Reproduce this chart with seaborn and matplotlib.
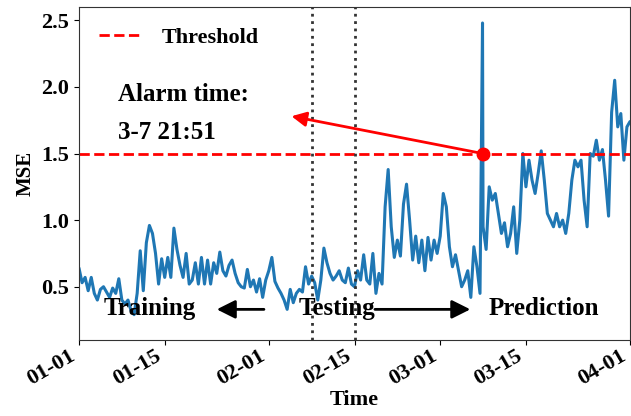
import pandas as pd
import seaborn as sns
import matplotlib
matplotlib.use("Agg")
import matplotlib.pyplot as plt
import matplotlib.dates as mdates

mse = [0.64, 0.53, 0.57, 0.47, 0.57, 0.45, 0.40, 0.48, 0.50, 0.46,
       0.42, 0.49, 0.45, 0.56, 0.40, 0.37, 0.40, 0.32, 0.29, 0.45,
       0.77, 0.47, 0.83, 0.96, 0.90, 0.75, 0.52, 0.71, 0.57, 0.72,
       0.57, 0.94, 0.78, 0.66, 0.57, 0.75, 0.52, 0.55, 0.68, 0.52,
       0.72, 0.52, 0.70, 0.52, 0.68, 0.60, 0.76, 0.62, 0.58, 0.66,
       0.70, 0.60, 0.53, 0.50, 0.49, 0.63, 0.50, 0.55, 0.46, 0.56,
       0.42, 0.55, 0.62, 0.72, 0.54, 0.49, 0.45, 0.40, 0.33, 0.48,
       0.38, 0.45, 0.48, 0.46, 0.65, 0.52, 0.58, 0.53, 0.40, 0.55,
       0.79, 0.68, 0.60, 0.55, 0.58, 0.62, 0.55, 0.53, 0.64, 0.52,
       0.50, 0.62, 0.55, 0.74, 0.55, 0.52, 0.75, 0.45, 0.60, 0.52,
       1.10, 1.38, 0.95, 0.72, 0.85, 0.73, 1.12, 1.27, 1.00, 0.70,
       0.88, 0.68, 0.85, 0.62, 0.87, 0.70, 0.85, 0.75, 0.88, 1.20,
       1.10, 0.80, 0.65, 0.74, 0.62, 0.50, 0.55, 0.62, 0.42, 0.80,
       0.65, 0.45, 0.95, 0.78, 1.25, 1.15, 1.20, 1.05, 0.90, 0.98,
       0.80, 0.90, 1.10, 0.75, 1.00, 1.50, 1.25, 1.45, 1.30, 1.20,
       1.35, 1.52, 1.30, 1.05, 1.00, 0.95, 1.05, 0.95, 1.00, 0.90,
       1.05, 1.30, 1.45, 1.40, 1.45, 1.15, 0.95, 1.50, 1.48, 1.60,
       1.45, 1.53, 1.30, 1.03, 1.81, 2.05, 1.70, 1.80, 1.45, 1.70,
       1.74]
start = "2021-01-01"
alarm_time = "2021-03-07 21:51"
alarm_peak = 2.48
threshold = 1.5
split_dates = ["2021-02-08", "2021-02-15"]
tick_dates = ["2021-01-01", "2021-01-15", "2021-02-01", "2021-02-15",
              "2021-03-01", "2021-03-15", "2021-04-01"]

times = pd.date_range(start, periods=len(mse), freq="12h")
df = pd.DataFrame({"Time": times, "MSE": mse})
spike = pd.DataFrame({"Time": [pd.Timestamp(alarm_time)], "MSE": [alarm_peak]})
df = pd.concat([df, spike]).sort_values("Time").reset_index(drop=True)

sns.set_style("ticks")
plt.rcParams["font.family"] = "serif"
plt.rcParams["font.serif"] = ["Liberation Serif", "DejaVu Serif"]
plt.rcParams["font.weight"] = "bold"
plt.rcParams["text.color"] = "black"
plt.rcParams["axes.labelcolor"] = "black"
plt.rcParams["xtick.color"] = "black"
plt.rcParams["ytick.color"] = "black"

fig, ax = plt.subplots(figsize=(6.31, 4.16), dpi=100)
fig.subplots_adjust(left=79/631, right=630/631, bottom=1-340/416, top=1-7/416)

sns.lineplot(data=df, x="Time", y="MSE", ax=ax, color="#1f77b4", lw=2.2)
ax.axhline(threshold, color="red", ls="--", lw=2, label="Threshold")
for d in split_dates:
    ax.axvline(pd.Timestamp(d), color="#333333", ls=":", lw=2)

t_alarm = pd.Timestamp(alarm_time)
ax.plot([t_alarm], [threshold], "o", color="red", ms=9)
ax.annotate("", xy=(pd.Timestamp("2021-02-04 17:00"), 1.78), xytext=(t_alarm, threshold),
            arrowprops=dict(arrowstyle="-|>", color="red", lw=2, mutation_scale=22,
                            shrinkA=0, shrinkB=0))
ax.text(pd.Timestamp("2021-01-07 07:00"), 1.94, "Alarm time:", fontsize=18,
        fontweight="bold", va="center")
ax.text(pd.Timestamp("2021-01-07 07:00"), 1.655, "3-7 21:51", fontsize=18,
        fontweight="bold", va="center")

ax.text(pd.Timestamp("2021-01-12 12:00"), 0.34, "Training", fontsize=18,
        fontweight="bold", ha="center", va="center")
ax.text(pd.Timestamp("2021-02-12 05:00"), 0.34, "Testing", fontsize=18,
        fontweight="bold", ha="center", va="center")
ax.text(pd.Timestamp("2021-03-17 22:00"), 0.34, "Prediction", fontsize=18,
        fontweight="bold", ha="center", va="center")
ax.annotate("", xy=(pd.Timestamp("2021-01-23 12:00"), 0.33),
            xytext=(pd.Timestamp("2021-01-31 05:00"), 0.33),
            arrowprops=dict(arrowstyle="-|>", color="black", lw=2, mutation_scale=28,
                            shrinkA=0, shrinkB=0))
ax.annotate("", xy=(pd.Timestamp("2021-03-05 22:00"), 0.33),
            xytext=(pd.Timestamp("2021-02-18 08:00"), 0.33),
            arrowprops=dict(arrowstyle="-|>", color="black", lw=2, mutation_scale=28,
                            shrinkA=0, shrinkB=0))

ax.set_xlim(pd.Timestamp(tick_dates[0]), pd.Timestamp(tick_dates[-1]))
ax.set_ylim(0.1, 2.6)
ax.set_xticks(pd.to_datetime(tick_dates))
ax.xaxis.set_major_formatter(mdates.DateFormatter("%m-%d"))
ax.set_yticks([0.5, 1.0, 1.5, 2.0, 2.5])
ax.set_yticklabels(["0.5", "1.0", "1.5", "2.0", "2.5"])
ax.tick_params(axis="x", pad=1)
plt.setp(ax.get_xticklabels(), rotation=30, ha="right", fontsize=16, fontweight="bold")
plt.setp(ax.get_yticklabels(), fontsize=16, fontweight="bold")
ax.set_xlabel("Time", fontsize=16, fontweight="bold", labelpad=0)
ax.set_ylabel("MSE", fontsize=15, fontweight="bold")
for s in ax.spines.values():
    s.set_color("#333333")
ax.legend(loc="upper left", frameon=False, fontsize=16)

fig.savefig("out.png", dpi=100)
